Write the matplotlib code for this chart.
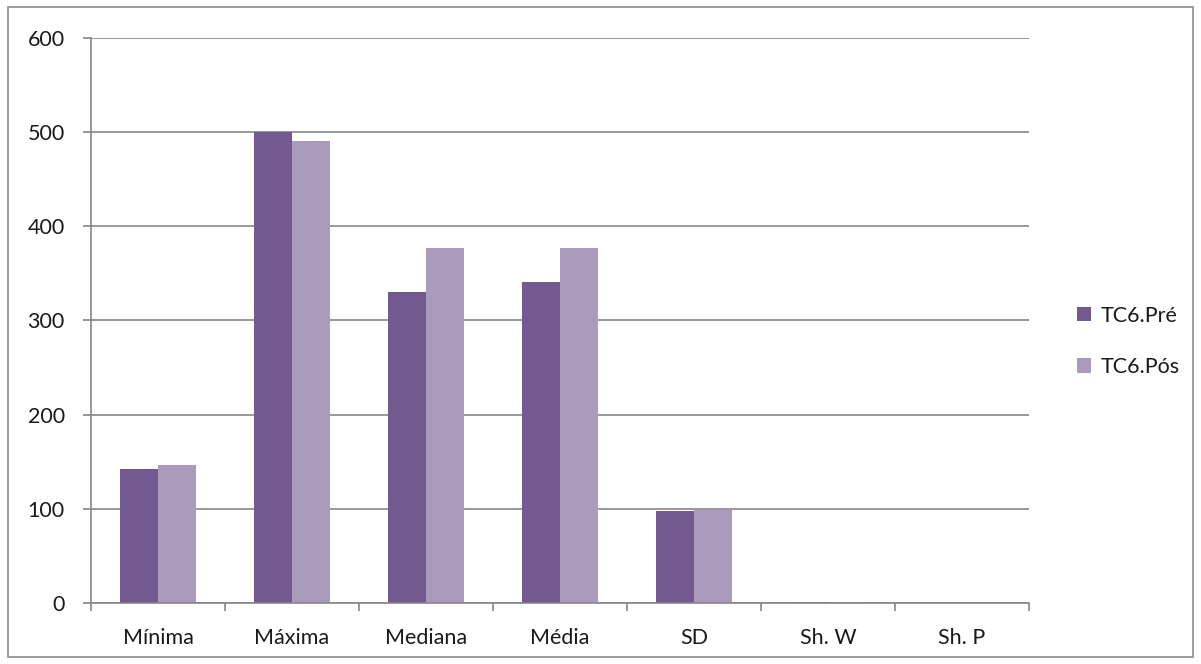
import numpy as np
import matplotlib.pyplot as plt
from matplotlib.patches import Rectangle

# Statistics for TC6, before and after
categories = ['Mínima', 'Máxima', 'Mediana', 'Média', 'SD', 'Sh. W', 'Sh. P']
tc6_pre = [142, 500, 330, 341, 98, 0.97, 0.30]
tc6_pos = [146, 491, 377, 377, 99, 0.96, 0.25]
series_names = ['TC6.Pré', 'TC6.Pós']

color_pre = '#72598F'
color_pos = '#AA9BBD'
grid_color = '#868686'

plt.rcParams['font.family'] = ['Lato', 'DejaVu Sans']
fs = 15.5

fig = plt.figure(figsize=(12.01, 6.64), dpi=100)
ax = fig.add_axes([0.0758, 0.0919, 0.781, 0.851])

x = np.arange(len(categories))
w = 0.284
ax.bar(x - w / 2, tc6_pre, width=w, color=color_pre, label=series_names[0], zorder=2)
ax.bar(x + w / 2, tc6_pos, width=w, color=color_pos, label=series_names[1], zorder=2)

ax.set_xlim(-0.5, len(categories) - 0.5)
ax.set_ylim(0, 600)
ax.set_yticks(range(0, 601, 100))
ax.yaxis.grid(True, color=grid_color, lw=1.2, zorder=0)
ax.set_axisbelow(True)

# category labels centred, tick marks at the boundaries
ax.set_xticks(x)
ax.set_xticklabels(categories)
ax.set_xticks(np.arange(-0.5, len(categories)), minor=True)
ax.tick_params(axis='x', which='major', length=0, pad=18, labelsize=fs, labelcolor='#1a1a1a')
ax.tick_params(axis='x', which='minor', length=6, width=1.2, color=grid_color, direction='out')
ax.tick_params(axis='y', length=6, width=1.2, color=grid_color, pad=13, labelsize=fs, labelcolor='#1a1a1a')

for side in ['top', 'right']:
    ax.spines[side].set_visible(False)
for side in ['left', 'bottom']:
    ax.spines[side].set_color(grid_color)
    ax.spines[side].set_linewidth(1.2)

leg = ax.legend(loc='center left', bbox_to_anchor=(1.03, 0.463), frameon=False,
                fontsize=fs, handlelength=0.65, handleheight=0.65,
                handletextpad=0.45, labelspacing=1.45)
for t in leg.get_texts():
    t.set_color('#1a1a1a')

# outer chart border
fig.patches.append(Rectangle((0.007, 0.011), 0.986, 0.978, transform=fig.transFigure,
                             fill=False, edgecolor='#8C8C8C', lw=1.2))

fig.savefig('out.png', dpi=100)
